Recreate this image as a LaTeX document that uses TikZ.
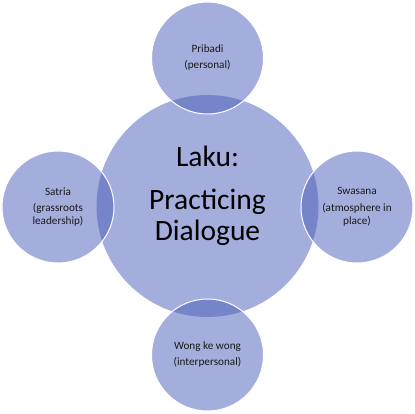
\documentclass[tikz,border=0pt]{standalone}
\usepackage{fontspec}
\setmainfont{Carlito}
\definecolor{vennblue}{RGB}{73,93,185}
\definecolor{venntext}{RGB}{25,25,25}
\begin{document}
\begin{tikzpicture}
        [x=1pt, y=-1pt,
        hub/.style={circle, fill=vennblue, fill opacity=.5, inner sep=0pt, minimum size=222pt},
        petal/.style={circle, fill=vennblue, fill opacity=.5, draw=white, line width=1pt, inner sep=0pt, minimum size=112pt},
        petaltext/.style={align=center, text=venntext, font=\fontsize{11.2}{13}\selectfont},
        hubtext/.style={align=center, text=black, font=\fontsize{29.5}{31}\selectfont}]

        \useasboundingbox (0,0) rectangle (415,414);

        % centre circle
        \node [hub] (laku) at (207.5,206) {};
        \node [hubtext] (lakutext) at (207.5,196) {Laku:\\[12pt]Practicing\\Dialogue};

        % outer circles
        \node [petal] (pribadi) at (207.5,58) {};
        \node [petal] (satria) at (58,207) {};
        \node [petal] (swasana) at (357,207) {};
        \node [petal] (wong) at (207.5,355) {};

        \node [petaltext] (pribaditext) at (pribadi) {Pribadi\\[3pt](personal)};
        \node [petaltext] (satriatext) at (satria) {Satria\\[3.5pt](grassroots\\leadership)};
        \node [petaltext] (swasanatext) at (swasana) {Swasana\\[3.5pt](atmosphere in\\place)};
        \node [petaltext] (wongtext) at (wong) {Wong ke wong\\[3pt](interpersonal)};
    \end{tikzpicture}
\end{document}
